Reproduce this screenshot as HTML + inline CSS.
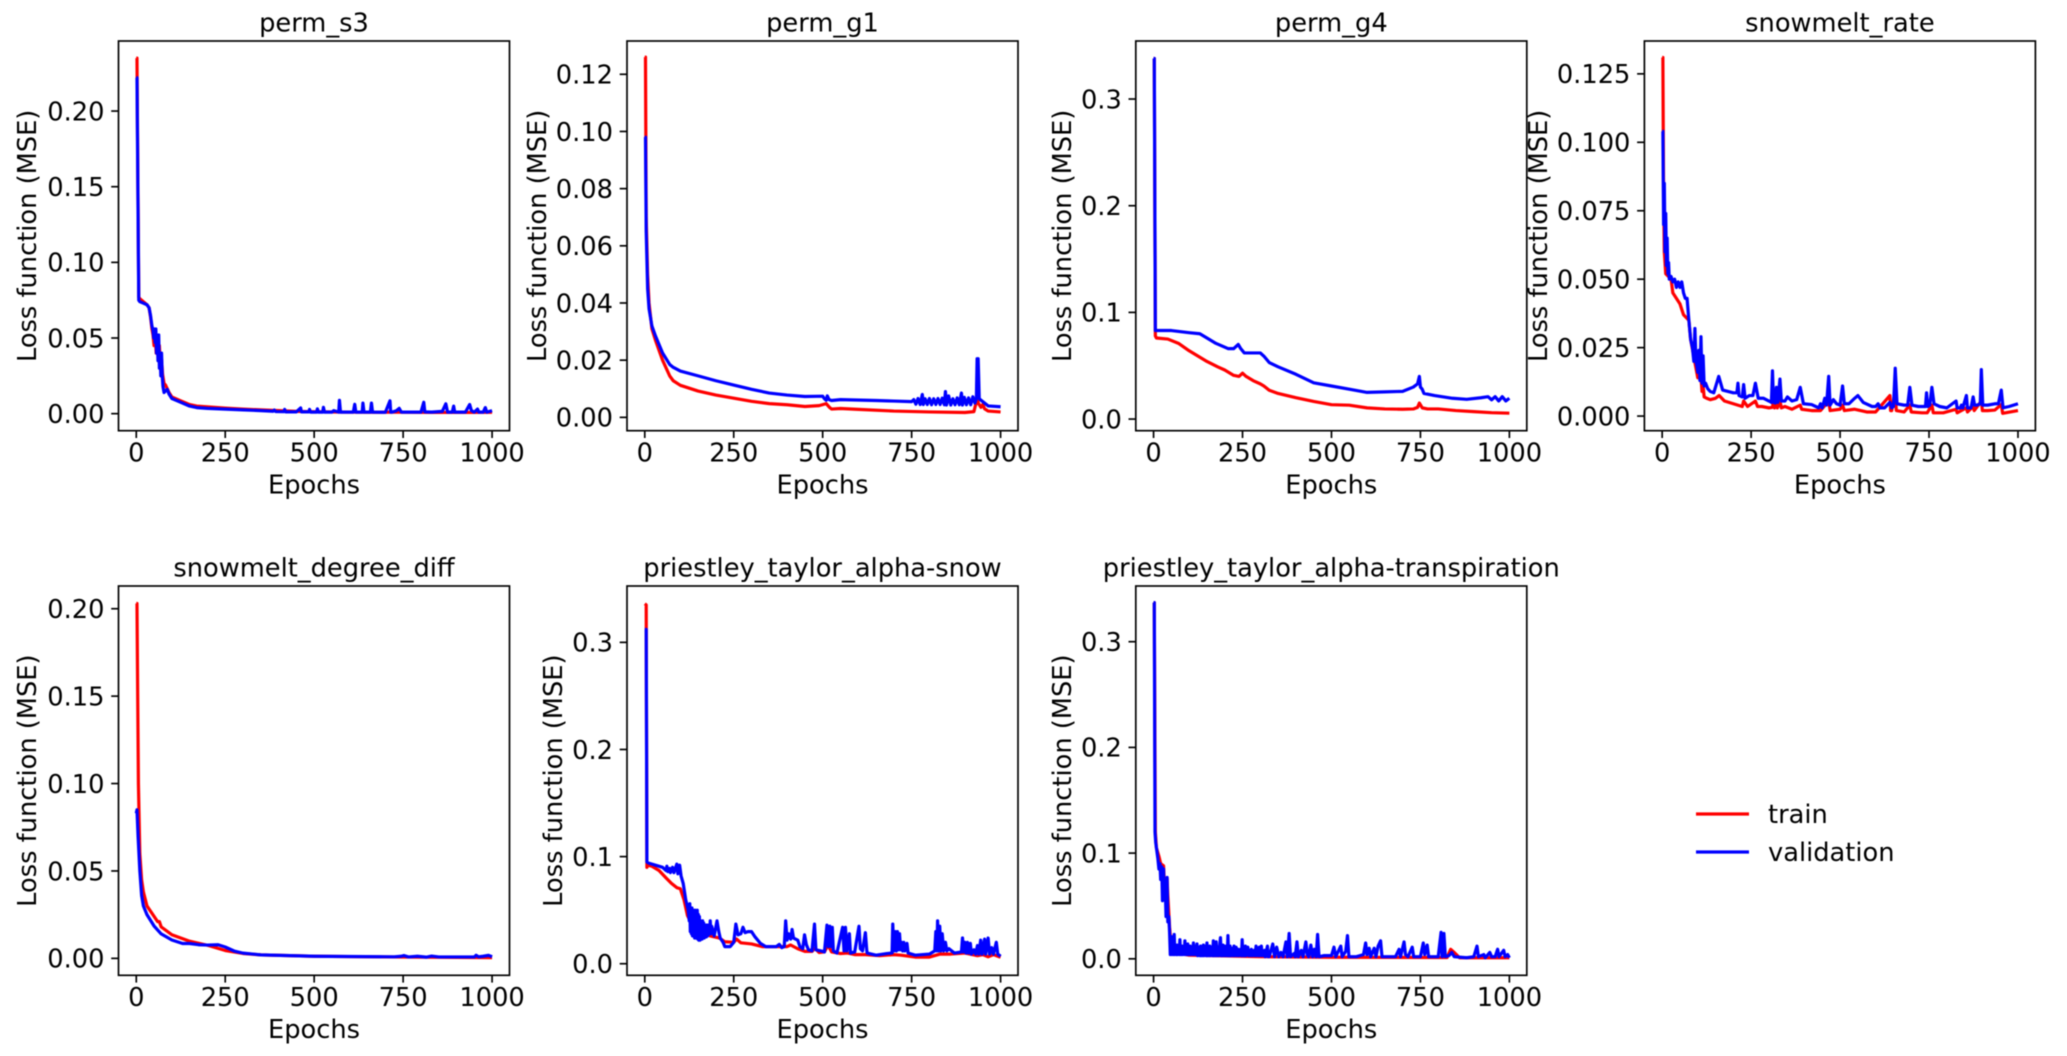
<!DOCTYPE html>
<html lang="en">
<head>
<meta charset="utf-8">
<title>Training and validation loss per parameter</title>
<style>
html,body{margin:0;padding:0;background:#fff}
svg{display:block;filter:blur(.4px)}
text{font-family:"DejaVu Sans","Liberation Sans",sans-serif;font-size:25.7px;fill:#000}
</style>
</head>
<body>
<svg id="chart" xmlns="http://www.w3.org/2000/svg" width="2067" height="1056" viewBox="0 0 2067 1056">
<rect x="0" y="0" width="2067" height="1056" fill="#fff"/>
<g>
<line x1="1696" x2="1749" y1="814" y2="814" stroke="#f00" stroke-width="3.2"/>
<text x="1768" y="823">train</text>
<line x1="1696" x2="1749" y1="852" y2="852" stroke="#00f" stroke-width="3.2"/>
<text x="1768" y="861">validation</text>
</g>
</svg>
<script>
const xTicks=[0,250,500,750,1000];

const s3TrainX=[0,2,7,10,20,30,36,40,44,47,50,53,56,59,62,65,68,71,74,78,82,86,92,100,120,150,170,200,250,300,350,400,450,500,560,620,680,720,780,830,880,940,1000];
const s3TrainY=[.235,.235,.077,.076,.074,.072,.07,.064,.056,.052,.045,.052,.04,.045,.036,.045,.03,.036,.026,.02,.019,.017,.014,.011,.009,.006,.005,.0045,.0037,.003,.0025,.002,.0015,.0013,.0011,.001,.0009,.001,.0009,.0008,.0008,.0008,.0009];
const s3ValX=[0,2,7,10,20,30,36,40,44,47,49,51,53,55,57,59,61,63,65,67,69,71,73,75,78,82,87,92,100,120,150,170,200,250,300,350,385,388,392,415,417,420,450,462,464,468,485,487,490,507,509,512,524,526,529,550,555,569,571,574,610,614,617,635,637,640,658,661,664,700,713,715,718,730,739,745,800,808,811,830,860,870,875,888,892,895,925,937,942,950,959,963,975,981,985,1000];
const s3ValY=[.222,.222,.075,.074,.073,.072,.07,.065,.058,.055,.05,.056,.047,.056,.04,.052,.035,.052,.03,.04,.025,.04,.025,.018,.014,.015,.016,.013,.01,.008,.005,.004,.0035,.003,.0025,.002,.0016,.0024,.0014,.0013,.0028,.0012,.0012,.0038,.0012,.0012,.0012,.0028,.001,.001,.0032,.001,.001,.0042,.001,.001,.002,.001,.0088,.001,.001,.0062,.001,.001,.007,.001,.001,.007,.001,.0009,.0085,.001,.001,.0018,.0035,.001,.001,.0075,.0012,.001,.0015,.0065,.001,.001,.005,.001,.001,.006,.002,.001,.003,.001,.001,.004,.001,.002];
const s3YTicks=["0.00","0.05","0.10","0.15","0.20"];

const g1TrainX=[0,2,4,8,12,20,30,50,70,80,100,150,200,250,300,350,400,450,490,510,520,525,550,600,700,800,900,925,932,934,937,945,950,955,965,1000];
const g1TrainY=[.126,.126,.07,.05,.04,.031,.027,.02,.0145,.0128,.0112,.0092,.0078,.0067,.0056,.0048,.0044,.0038,.0041,.0048,.0034,.0029,.0031,.0028,.0022,.0019,.0017,.002,.0055,.013,.005,.0035,.0045,.003,.0022,.0019];
const g1ValX=[0,2,4,8,12,20,30,50,70,80,100,150,200,250,300,350,400,450,500,505,510,513,518,525,550,650,700,750,756,762,768,774,780,783,788,794,800,806,812,818,824,830,836,842,845,848,854,860,866,872,878,884,890,893,898,904,910,916,922,928,932,934,937,940,950,965,1000];
const g1ValY=[.098,.098,.065,.045,.038,.032,.0285,.0225,.0185,.0175,.0162,.0145,.0128,.0113,.0098,.0085,.0078,.0073,.0074,.0065,.006,.0075,.0062,.0059,.0062,.0059,.0057,.0055,.0062,.0046,.0066,.0045,.008,.0045,.0065,.0045,.0066,.0044,.0065,.0045,.0066,.0045,.0067,.0044,.009,.0043,.0075,.0043,.0065,.0044,.0068,.0044,.0085,.0043,.007,.0044,.0068,.0044,.0072,.005,.0065,.0205,.0205,.0065,.0055,.004,.0037];
const g1YTicks=["0.00","0.02","0.04","0.06","0.08","0.10","0.12"];

const g4TrainX=[0,2,5,8,40,70,100,150,180,200,225,240,250,260,280,300,310,325,350,400,450,500,550,600,650,700,730,742,747,755,770,800,850,900,950,1000];
const g4TrainY=[.338,.338,.078,.076,.075,.071,.064,.054,.049,.046,.041,.04,.043,.04,.036,.033,.031,.027,.024,.02,.0165,.0135,.013,.0105,.0095,.0092,.0095,.011,.015,.0105,.0095,.0095,.008,.007,.006,.0055];
const g4ValX=[0,2,5,50,100,130,150,175,210,225,238,245,255,300,310,325,350,400,450,500,550,600,650,700,730,742,747,750,755,760,790,840,880,920,940,950,960,970,980,990,1000];
const g4ValY=[.338,.338,.083,.083,.081,.08,.076,.071,.066,.066,.07,.066,.062,.062,.059,.053,.049,.042,.034,.031,.028,.025,.0255,.026,.03,.033,.04,.03,.028,.024,.022,.0195,.0185,.02,.021,.018,.021,.017,.021,.017,.0195];
const g4YTicks=["0.0","0.1","0.2","0.3"];

const rateTrainX=[0,2,4,6,10,25,30,50,60,75,80,90,100,104,108,112,115,118,125,135,150,160,175,200,225,229,240,262,268,280,300,310,313,316,321,324,331,335,345,365,388,392,420,445,468,472,500,507,512,540,575,600,640,642,645,655,658,680,696,700,730,745,758,762,790,826,829,855,858,874,877,897,900,915,935,953,957,1000];
const rateTrainY=[.131,.131,.08,.06,.052,.05,.045,.041,.037,.035,.028,.021,.014,.018,.016,.009,.011,.007,.0065,.006,.0065,.0075,.0055,.0045,.0035,.0055,.0035,.0055,.0035,.0035,.003,.0032,.006,.003,.006,.003,.0055,.003,.0035,.0025,.004,.0025,.002,.002,.0055,.002,.0025,.004,.002,.0025,.0015,.0015,.0075,.002,.002,.0095,.002,.0015,.004,.0015,.0012,.0012,.004,.0012,.0012,.0025,.0012,.003,.0015,.0035,.002,.0055,.002,.002,.0022,.0042,.001,.002];
const rateValX=[0,2,4,6,8,10,12,14,16,18,20,25,30,35,40,45,50,55,60,65,70,75,80,85,89,92,95,98,100,103,106,109,112,115,118,122,128,135,145,159,170,185,200,210,213,216,225,229,233,245,255,262,270,285,300,307,310,313,318,321,325,331,335,345,352,365,378,388,397,420,440,445,450,457,462,468,472,481,490,500,507,512,525,541,550,565,590,600,607,612,625,640,645,650,655,660,680,690,696,702,720,740,743,746,752,758,764,780,800,826,829,838,841,845,855,858,868,874,878,885,894,897,901,915,935,945,953,958,975,1000];
const rateValY=[.104,.104,.07,.085,.06,.074,.055,.065,.052,.056,.05,.051,.049,.05,.047,.049,.047,.049,.045,.043,.043,.035,.028,.025,.02,.032,.02,.018,.016,.024,.013,.029,.012,.022,.011,.012,.01,.009,.0085,.0145,.0095,.009,.0085,.0085,.012,.0075,.007,.0115,.0065,.0075,.0075,.012,.0065,.0065,.0055,.005,.0165,.005,.0048,.0105,.005,.0135,.0055,.0055,.007,.0055,.006,.0105,.0045,.0042,.003,.0045,.003,.0065,.004,.0145,.004,.006,.0045,.004,.011,.0045,.0045,.0065,.0075,.005,.0035,.0035,.0045,.003,.003,.005,.003,.0035,.0175,.0045,.004,.004,.0105,.004,.0035,.0035,.0085,.0035,.004,.0105,.0045,.0035,.003,.0055,.003,.003,.004,.003,.0075,.003,.003,.007,.004,.004,.0045,.017,.004,.004,.0045,.0045,.0095,.003,.0035,.0045];
const rateYTicks=["0.000","0.025","0.050","0.075","0.100","0.125"];

const degreeTrainX=[0,2,4,6,10,15,20,30,50,60,65,70,100,150,200,250,300,350,500,700,1000];
const degreeTrainY=[.203,.203,.15,.1,.06,.045,.038,.03,.024,.021,.021,.018,.0135,.0098,.0075,.0045,.0028,.002,.0012,.0008,.0004];
const degreeValX=[0,2,5,10,15,20,30,50,70,100,130,150,175,200,230,250,275,300,350,500,725,745,752,765,790,815,830,850,950,955,962,975,990,1000];
const degreeValY=[.083,.085,.07,.05,.036,.03,.025,.0185,.014,.0105,.0085,.0085,.0078,.0076,.0078,.0065,.0042,.003,.002,.0012,.0009,.0012,.0016,.0008,.0012,.0007,.0013,.0008,.0008,.0018,.0009,.0012,.0017,.0009];
const degreeYTicks=["0.00","0.05","0.10","0.15","0.20"];

const snowTrainX=[0,4,6,8,20,40,60,75,90,100,110,120,135,160,190,210,225,250,258,270,300,330,400,410,430,450,470,478,490,505,515,525,550,570,590,620,660,700,720,760,800,830,860,900,920,935,950,965,980,1000];
const snowTrainY=[.336,.335,.09,.092,.091,.087,.08,.075,.071,.07,.06,.045,.035,.028,.0255,.024,.0205,.02,.023,.0195,.0185,.016,.016,.0175,.014,.0115,.0115,.0145,.0105,.011,.0175,.011,.0095,.01,.0085,.0085,.0075,.0085,.008,.0062,.0062,.009,.009,.01,.0085,.0075,.0085,.0065,.0085,.006];
const snowValX=[0,4,6,10,30,50,60,62,65,70,72,78,82,90,93,98,102,108,115,122,
125,126.5,128,129.5,131,132.5,134,135.5,137,138.5,140,141.5,143,144.5,146,147.5,149,150.5,152,153.5,155,156.5,158,159.5,161,162.5,164,165.5,167,168.5,170,171.5,173,174.5,176,177.5,179,181,182.5,184,186,188,
195,203,208,212,220,225,240,250,256,262,270,276,282,290,300,310,325,340,370,378,385,392,396,400,404,410,414,418,430,436,444,449,454,460,470,477,481,495,505,512,516,520,524,527,530,540,556,560,564,568,575,578,590,602,606,612,620,624,625,650,680,695,697,700,704,707,710,713,716,719,722,725,728,731,737,740,760,800,815,818,821,823,826,829,832,836,840,845,849,855,870,890,893,896,900,903,907,910,915,918,925,930,935,939,944,948,955,958,965,969,975,980,988,992,1000];
const snowValY=[.312,.312,.095,.094,.092,.09,.087,.091,.086,.089,.085,.09,.085,.093,.084,.092,.082,.075,.06,.05,
.04,.056,.03,.05,.028,.052,.026,.05,.026,.05,.024,.05,.024,.048,.024,.05,.023,.046,.022,.044,.022,.04,.023,.038,.023,.04,.024,.038,.024,.036,.025,.036,.025,.036,.026,.036,.027,.036,.028,.04,.028,.035,
.026,.04,.03,.024,.02,.016,.016,.02,.037,.027,.028,.034,.029,.03,.03,.025,.019,.016,.016,.018,.015,.016,.04,.022,.028,.023,.032,.024,.022,.016,.014,.027,.018,.013,.012,.037,.013,.012,.011,.036,.016,.035,.016,.034,.012,.01,.034,.012,.034,.012,.028,.01,.011,.035,.014,.012,.029,.012,.01,.008,.0095,.01,.037,.012,.03,.012,.03,.013,.028,.013,.02,.012,.02,.012,.019,.01,.008,.009,.012,.03,.012,.04,.012,.035,.012,.028,.012,.02,.012,.014,.01,.011,.024,.011,.02,.01,.02,.01,.019,.009,.013,.009,.017,.009,.022,.009,.023,.009,.024,.009,.015,.009,.02,.009,.007];
const snowYTicks=["0.0","0.1","0.2","0.3"];

const transTrainX=[0,2,5,8,15,20,28,30,33,38,40,45,50,55,100,300,500,800,825,835,845,860,1000];
const transTrainY=[.337,.337,.12,.105,.097,.09,.088,.075,.075,.076,.06,.03,.01,.006,.0035,.002,.0015,.0012,.0012,.009,.006,.001,.001];
const transValX=[0,2,4,6,8,12,15,18,20,23,25,28,30,33,35,38,40,43,45,47,
50,52,55,57,58,60,63,65,66,68,71,72,74,76,78,79,80,82,85,86,88,90,93,94,96,98,101,102,103,105,109,110,112,114,118,120,122,124,128,130,132,134,137,138,140,142,146,148,150,152,155,156,158,160,164,166,168,170,173,174,176,178,181,183,188,190,192,193,195,197,200,202,205,207,209,211,213,214,215,218,222,224,226,228,232,234,238,240,245,247,249,251,254,256,258,260,265,268,272,273,275,279,283,285,288,290,294,295,297,299,303,305,309,310,312,314,320,322,
325,335,340,346,352,358,364,372,376,381,385,395,398,403,407,415,420,428,432,436,442,447,452,457,461,465,478,490,500,507,512,526,530,540,545,549,570,580,590,596,600,606,610,620,625,631,638,642,660,680,690,694,704,708,715,727,731,750,758,762,769,773,790,800,808,811,816,820,830,838,845,880,900,909,913,928,932,945,950,960,967,971,984,988,995,1000];
const transValY=[.337,.337,.12,.11,.105,.095,.085,.09,.075,.087,.055,.085,.06,.065,.04,.077,.035,.04,.025,.004,
.021,.004,.012,.004,.023,.004,.01,.004,.013,.004,.011,.004,.018,.004,.01,.004,.012,.004,.011,.004,.017,.004,.01,.004,.014,.004,.01,.004,.012,.004,.011,.004,.015,.004,.012,.004,.014,.003,.011,.003,.012,.003,.011,.003,.013,.003,.012,.003,.015,.003,.01,.003,.012,.003,.011,.003,.017,.003,.01,.003,.016,.003,.011,.003,.02,.003,.011,.003,.013,.003,.012,.003,.012,.003,.022,.003,.011,.003,.012,.003,.01,.003,.012,.003,.011,.003,.009,.003,.009,.003,.018,.003,.009,.003,.012,.003,.011,.003,.008,.003,.009,.003,.008,.003,.012,.003,.008,.003,.011,.003,.012,.003,.007,.003,.008,.002,.012,.002,
.002,.014,.002,.011,.002,.006,.002,.016,.002,.024,.002,.005,.002,.016,.002,.008,.002,.016,.004,.002,.013,.002,.009,.002,.023,.002,.003,.003,.003,.011,.002,.012,.002,.007,.022,.002,.002,.003,.004,.015,.004,.01,.002,.01,.002,.012,.017,.002,.002,.002,.009,.002,.016,.004,.002,.011,.002,.002,.015,.004,.013,.002,.002,.002,.025,.002,.024,.002,.003,.006,.002,.001,.002,.012,.002,.004,.001,.006,.002,.002,.009,.002,.008,.002,.004,.001];
const transYTicks=["0.0","0.1","0.2","0.3"];

const xMin=-49.95, xMax=1048.95;
const plotWidth=391;
const panels=[
 {key:"perm-s3",title:"perm_s3",left:118.5,top:41,bottom:430.7,yMin:-.01126,yMax:.2463,labelX:36,ticks:s3YTicks,tx:s3TrainX,ty:s3TrainY,vx:s3ValX,vy:s3ValY},
 {key:"perm-g1",title:"perm_g1",left:627,top:41,bottom:430.7,yMin:-.00467,yMax:.13164,labelX:545.8,ticks:g1YTicks,tx:g1TrainX,ty:g1TrainY,vx:g1ValX,vy:g1ValY},
 {key:"perm-g4",title:"perm_g4",left:1135.8,top:41,bottom:430.7,yMin:-.0109,yMax:.3544,labelX:1071,ticks:g4YTicks,tx:g4TrainX,ty:g4TrainY,vx:g4ValX,vy:g4ValY},
 {key:"snowmelt-rate",title:"snowmelt_rate",left:1644.4,top:41,bottom:430.7,yMin:-.00534,yMax:.137,labelX:1547,ticks:rateYTicks,tx:rateTrainX,ty:rateTrainY,vx:rateValX,vy:rateValY},
 {key:"snowmelt-degree-diff",title:"snowmelt_degree_diff",left:118.5,top:586,bottom:975.3,yMin:-.00969,yMax:.213,labelX:36,ticks:degreeYTicks,tx:degreeTrainX,ty:degreeTrainY,vx:degreeValX,vy:degreeValY},
 {key:"alpha-snow",title:"priestley_taylor_alpha-snow",left:627,top:586,bottom:975.3,yMin:-.0108,yMax:.3526,labelX:562,ticks:snowYTicks,tx:snowTrainX,ty:snowTrainY,vx:snowValX,vy:snowValY},
 {key:"alpha-transpiration",title:"priestley_taylor_alpha-transpiration",left:1135.8,top:586,bottom:975.3,yMin:-.0156,yMax:.3527,labelX:1071,ticks:transYTicks,tx:transTrainX,ty:transTrainY,vx:transValX,vy:transValY}
];

const NS="http://www.w3.org/2000/svg";
const svg=document.getElementById("chart");
function make(parent,tag,attrs,text){
  const el=document.createElementNS(NS,tag);
  for(const k in attrs){el.setAttribute(k,attrs[k]);}
  if(text!==undefined){el.textContent=text;}
  parent.appendChild(el);
  return el;
}
function linePath(xs,ys,sx,sy){
  let d="";
  const n=Math.min(xs.length,ys.length);
  for(let i=0;i<n;i++){d+=(i?"L":"M")+sx(xs[i]).toFixed(2)+" "+sy(ys[i]).toFixed(2);}
  return d;
}
panels.forEach(function(p){
  const sx=function(v){return p.left+(v-xMin)/(xMax-xMin)*plotWidth;};
  const sy=function(v){return p.bottom-(v-p.yMin)/(p.yMax-p.yMin)*(p.bottom-p.top);};
  const cx=p.left+plotWidth/2;
  const g=make(svg,"g",{});
  
  

  xTicks.forEach(function(t){
    const x=sx(t);
    const tick=make(g,"line",{x1:x,x2:x,y1:p.bottom,y2:p.bottom+7.3,stroke:"#000","stroke-width":1.67});
    
    
    const lab=make(g,"text",{x:x,y:p.bottom+30.6,"text-anchor":"middle"},String(t));
    
    
  });
  p.ticks.forEach(function(t){
    const y=sy(parseFloat(t));
    const tick=make(g,"line",{x1:p.left-7.3,x2:p.left,y1:y,y2:y,stroke:"#000","stroke-width":1.67});
    
    
    const lab=make(g,"text",{x:p.left-14,y:y+9.3,"text-anchor":"end"},t);
    
    
  });

  const train=make(g,"path",{d:linePath(p.tx,p.ty,sx,sy),fill:"none",stroke:"#f00","stroke-width":3.2,"stroke-linejoin":"round"});
  
  
  const val=make(g,"path",{d:linePath(p.vx,p.vy,sx,sy),fill:"none",stroke:"#00f","stroke-width":3.2,"stroke-linejoin":"round"});
  
  

  const frame=make(g,"rect",{x:p.left,y:p.top,width:plotWidth,height:p.bottom-p.top,fill:"none",stroke:"#000","stroke-width":1.67});
  
  

  const title=make(g,"text",{x:cx,y:p.top-9.3,"text-anchor":"middle"},p.title);
  
  
  const xl=make(g,"text",{x:cx,y:p.bottom+62.6,"text-anchor":"middle"},"Epochs");
  
  
  const cy=(p.top+p.bottom)/2;
  const yl=make(g,"text",{x:p.labelX,y:cy,"text-anchor":"middle",transform:"rotate(-90 "+p.labelX+" "+cy+")"},"Loss function (MSE)");
  
  
});
</script>
</body>
</html>
